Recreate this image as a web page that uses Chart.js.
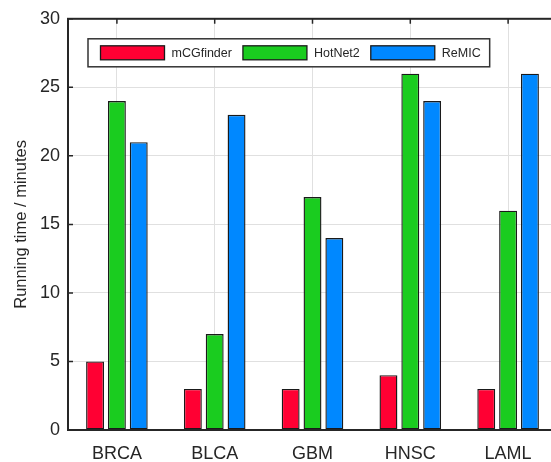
<!DOCTYPE html>
<html>
<head>
<meta charset="utf-8">
<script src="https://cdn.jsdelivr.net/npm/chart.js@4/dist/chart.umd.min.js"></script>
<style>
  html, body { margin: 0; padding: 0; background: #ffffff; overflow: hidden; }
  #wrap { position: relative; width: 560px; height: 462px; }
</style>
</head>
<body>
<div id="wrap"><canvas id="c"></canvas></div>
<script>
// Cancer types on the x axis
const cancerTypes = ['BRCA', 'BLCA', 'GBM', 'HNSC', 'LAML'];

// Running time (minutes) per method
const mcgfinderTimes = [5, 3, 3, 4, 3];
const hotnet2Times   = [24, 7, 17, 26, 16];
const remicTimes     = [21, 23, 14, 24, 26];

// Y axis ticks
const yTickValues = [0, 5, 10, 15, 20, 25, 30];

const methodNames  = ['mCGfinder', 'HotNet2', 'ReMIC'];
const methodColors = ['#ff0033', '#1acc1f', '#0088ff'];

const axisColor = '#262626';
const fontFamily = '"Liberation Sans", Arial, Helvetica, sans-serif';

// Inward tick marks (under the bars), then frame and in-plot legend on top
const framePlugin = {
  id: 'frame',
  beforeDatasetsDraw(chart) {
    const ctx = chart.ctx;
    const a = chart.chartArea;
    const xs = chart.scales.x;
    const ys = chart.scales.y;
    ctx.save();
    ctx.strokeStyle = axisColor;
    ctx.lineWidth = 1.5;
    const tl = 5;
    ctx.beginPath();
    ys.ticks.forEach(t => {
      const y = ys.getPixelForValue(t.value);
      ctx.moveTo(a.left, y); ctx.lineTo(a.left + tl, y);
      ctx.moveTo(a.right, y); ctx.lineTo(a.right - tl, y);
    });
    xs.ticks.forEach((t, i) => {
      const x = xs.getPixelForTick(i);
      ctx.moveTo(x, a.top); ctx.lineTo(x, a.top + tl);
      ctx.moveTo(x, a.bottom); ctx.lineTo(x, a.bottom - tl);
    });
    ctx.stroke();
    ctx.restore();
  },
  afterDatasetsDraw(chart) {
    const ctx = chart.ctx;
    const a = chart.chartArea;
    ctx.save();

    // box around plot
    ctx.strokeStyle = axisColor;
    ctx.lineWidth = 2;
    ctx.strokeRect(a.left, a.top, a.right - a.left, a.bottom - a.top);

    // legend
    const lx = a.left + 20, ly = a.top + 20, lh = 28;
    const sw = 64, sh = 14, gapText = 7, gapItem = 11, padL = 12.5, padR = 9;
    ctx.font = '12.5px ' + fontFamily;
    let w = padL;
    const ds = chart.data.datasets;
    ds.forEach((d, i) => {
      w += sw + gapText + ctx.measureText(d.label).width;
      if (i < ds.length - 1) w += gapItem;
    });
    w += padR;
    ctx.fillStyle = '#ffffff';
    ctx.fillRect(lx, ly, w, lh);
    ctx.strokeStyle = '#333333';
    ctx.lineWidth = 1.5;
    ctx.strokeRect(lx, ly, w, lh);
    let x = lx + padL;
    const cy = ly + lh / 2;
    ds.forEach((d, i) => {
      ctx.fillStyle = d.backgroundColor;
      ctx.fillRect(x, cy - sh / 2, sw, sh);
      ctx.strokeStyle = '#1a1a1a';
      ctx.lineWidth = 1.3;
      ctx.strokeRect(x, cy - sh / 2, sw, sh);
      x += sw + gapText;
      ctx.fillStyle = axisColor;
      ctx.textBaseline = 'middle';
      ctx.textAlign = 'left';
      ctx.fillText(d.label, x, cy + 0.5);
      x += ctx.measureText(d.label).width + gapItem;
    });
    ctx.restore();
  }
};

const datasets = [mcgfinderTimes, hotnet2Times, remicTimes].map((vals, i) => ({
  label: methodNames[i],
  data: vals,
  backgroundColor: methodColors[i],
  borderColor: '#1a1a1a',
  borderWidth: 1.4,
  borderSkipped: false,
  categoryPercentage: 0.67,
  barPercentage: 0.82
}));

new Chart(document.getElementById('c'), {
  type: 'bar',
  data: { labels: cancerTypes, datasets },
  options: {
    responsive: true,
    maintainAspectRatio: false,
    animation: false,
    devicePixelRatio: 1,
    layout: { padding: { top: 18, right: 3, left: 0, bottom: 0 } },
    plugins: {
      legend: { display: false },
      tooltip: { enabled: false }
    },
    scales: {
      x: {
        grid: { offset: false, color: '#e0e0e0', lineWidth: 1, drawTicks: false },
        border: { display: false },
        ticks: {
          color: axisColor,
          font: { family: fontFamily, size: 18 },
          padding: 13
        },
        afterFit(scale) { scale.height = 32; }
      },
      y: {
        min: 0,
        max: 30,
        grid: { color: '#e0e0e0', lineWidth: 1, drawTicks: false },
        border: { display: false },
        afterBuildTicks(scale) { scale.ticks = yTickValues.map(v => ({ value: v })); },
        ticks: {
          color: axisColor,
          font: { family: fontFamily, size: 18 },
          padding: 8
        },
        title: {
          display: true,
          text: 'Running time / minutes',
          color: axisColor,
          font: { family: fontFamily, size: 16.5 },
          padding: { top: 12, bottom: 0 }
        },
        afterFit(scale) { scale.width = 68; }
      }
    }
  },
  plugins: [framePlugin]
});
</script>
</body>
</html>
